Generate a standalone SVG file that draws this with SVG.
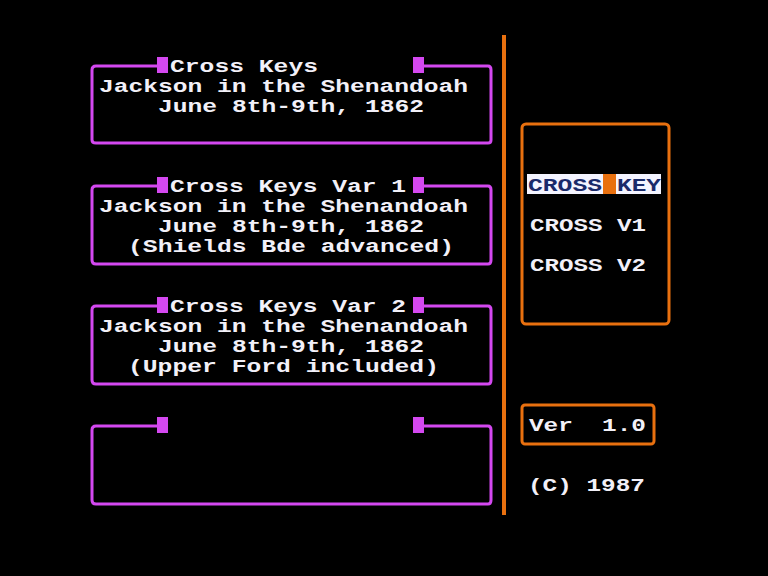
<svg xmlns="http://www.w3.org/2000/svg" width="768" height="576" viewBox="0 0 768 576">
<style>
.t{font-family:"Liberation Mono","DejaVu Sans Mono",monospace;font-weight:bold;font-size:19px;fill:#f2f0f8}
.b{fill:none;stroke:#d448f0;stroke-width:3}
.br{fill:#d448f0}
.o{fill:none;stroke:#e8700f;stroke-width:3}
</style>
<rect width="768" height="576" fill="#000"/>
<g id="box1">
<path class="b" d="M160 66H96Q92 66 92 70V140Q92 143 96 143H488Q491 143 491 140V70Q491 66 488 66H422"/>
<rect class="br" x="157" y="57" width="11" height="16"/><rect class="br" x="413" y="57" width="11" height="16"/>
<text class="t" x="170" y="72" textLength="148" lengthAdjust="spacingAndGlyphs">Cross Keys</text>
<text class="t" x="99" y="92" textLength="369" lengthAdjust="spacingAndGlyphs">Jackson in the Shenandoah</text>
<text class="t" x="158" y="112" textLength="266" lengthAdjust="spacingAndGlyphs">June 8th-9th, 1862</text>
</g>
<g id="box2">
<path class="b" d="M160 186H96Q92 186 92 190V260Q92 264 96 264H488Q491 264 491 260V190Q491 186 488 186H422"/>
<rect class="br" x="157" y="177" width="11" height="16"/><rect class="br" x="413" y="177" width="11" height="16"/>
<text class="t" x="170" y="192" textLength="236" lengthAdjust="spacingAndGlyphs">Cross Keys Var 1</text>
<text class="t" x="99" y="212" textLength="369" lengthAdjust="spacingAndGlyphs">Jackson in the Shenandoah</text>
<text class="t" x="158" y="232" textLength="266" lengthAdjust="spacingAndGlyphs">June 8th-9th, 1862</text>
<text class="t" x="128" y="252" textLength="326" lengthAdjust="spacingAndGlyphs">(Shields Bde advanced)</text>
</g>
<g id="box3">
<path class="b" d="M160 306H96Q92 306 92 310V380Q92 384 96 384H488Q491 384 491 380V310Q491 306 488 306H422"/>
<rect class="br" x="157" y="297" width="11" height="16"/><rect class="br" x="413" y="297" width="11" height="16"/>
<text class="t" x="170" y="312" textLength="236" lengthAdjust="spacingAndGlyphs">Cross Keys Var 2</text>
<text class="t" x="99" y="332" textLength="369" lengthAdjust="spacingAndGlyphs">Jackson in the Shenandoah</text>
<text class="t" x="158" y="352" textLength="266" lengthAdjust="spacingAndGlyphs">June 8th-9th, 1862</text>
<text class="t" x="128" y="372" textLength="311" lengthAdjust="spacingAndGlyphs">(Upper Ford included)</text>
</g>
<g id="box4">
<path class="b" d="M160 426H96Q92 426 92 430V500Q92 504 96 504H488Q491 504 491 500V430Q491 426 488 426H422"/>
<rect class="br" x="157" y="417" width="11" height="16"/><rect class="br" x="413" y="417" width="11" height="16"/>
</g>
<line x1="504" y1="35" x2="504" y2="515" stroke="#e8700f" stroke-width="4"/>
<g id="menu">
<rect class="o" x="522" y="124" width="147" height="200" rx="4"/>
<rect x="527" y="174" width="134" height="20" fill="#f4f4ff"/>
<rect x="603" y="174" width="13" height="20" fill="#e8700f"/>
<text class="t" x="528" y="191" textLength="74" lengthAdjust="spacingAndGlyphs" style="fill:#1a2a6a">CROSS</text>
<text class="t" x="617" y="191" textLength="44" lengthAdjust="spacingAndGlyphs" style="fill:#1a2a6a">KEY</text>
<text class="t" x="530" y="231" textLength="116" lengthAdjust="spacingAndGlyphs">CROSS V1</text>
<text class="t" x="530" y="271" textLength="116" lengthAdjust="spacingAndGlyphs">CROSS V2</text>
</g>
<g id="version">
<rect class="o" x="522" y="405" width="132" height="39" rx="3"/>
<text class="t" x="529" y="431" textLength="117" lengthAdjust="spacingAndGlyphs" xml:space="preserve">Ver  1.0</text>
</g>
<text class="t" x="528" y="491" textLength="117" lengthAdjust="spacingAndGlyphs">(C) 1987</text>
</svg>
